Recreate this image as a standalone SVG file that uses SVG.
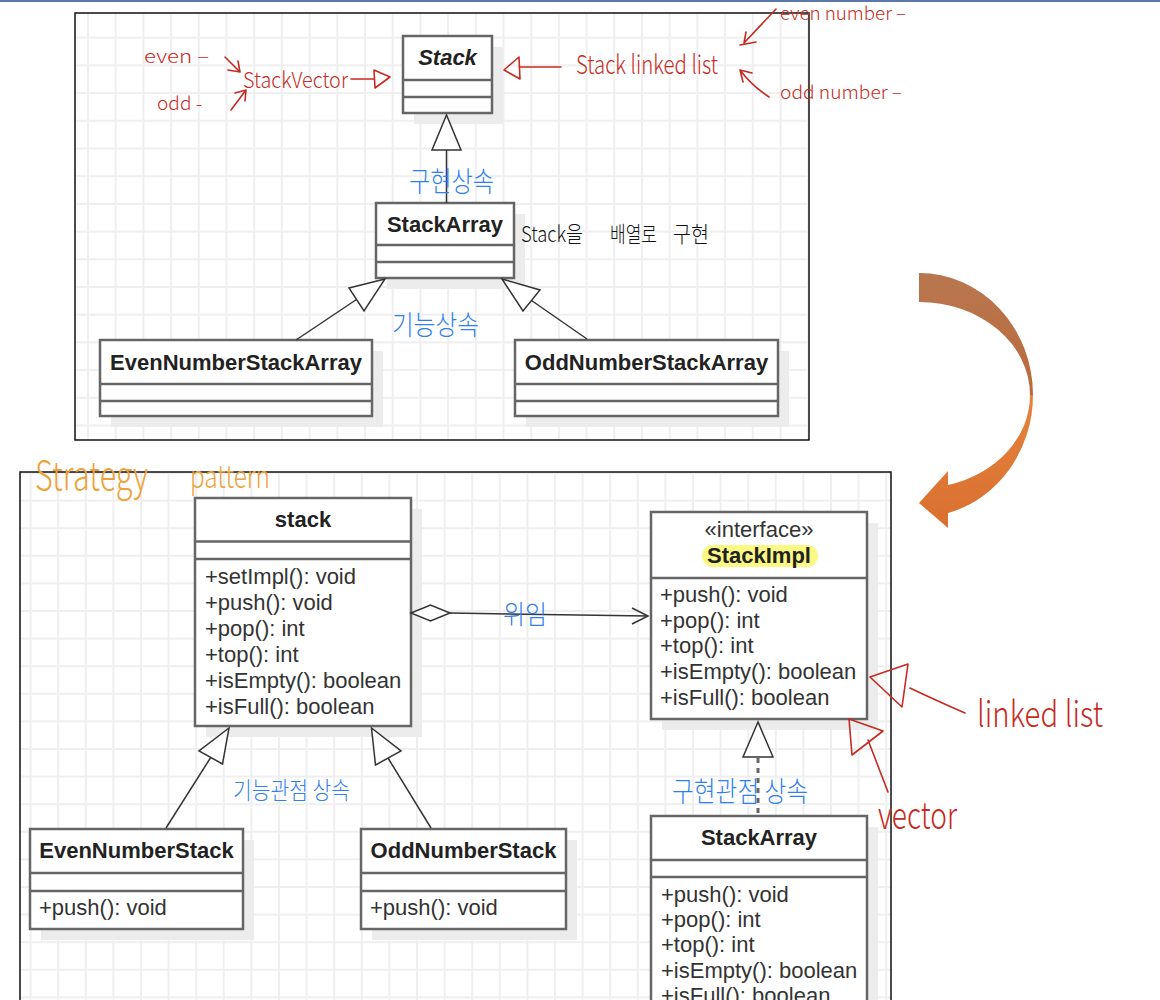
<svg xmlns="http://www.w3.org/2000/svg" width="1160" height="1000" viewBox="0 0 1160 1000">
<style>
.box{fill:#fff;stroke:#666;stroke-width:2.5}
.sh{fill:#ececec}
.dv{stroke:#666;stroke-width:2.5}
.cn{font-family:"Liberation Sans",Arial,sans-serif;font-size:22px;font-weight:bold;fill:#222;text-anchor:middle}
.mt{font-family:"Liberation Sans",Arial,sans-serif;font-size:22px;fill:#333}
.ln{stroke:#333;stroke-width:1.5;fill:none}
.tri{fill:#fff;stroke:#333;stroke-width:1.5}
.hw{font-family:"Noto Sans CJK KR","Liberation Sans",sans-serif;font-weight:300}
.red{fill:#c62a22}
.blue{fill:#2f80ee}
.org{fill:#eda13a}
.blk{fill:#111}
.rl{stroke:#c62a22;stroke-width:1.6;fill:none;stroke-linecap:round;stroke-linejoin:round}
</style>
<defs>
<pattern id="g1" x="3.9" y="9" width="27.7" height="27.7" patternUnits="userSpaceOnUse"><path d="M0,1H27.7M1,0V27.7" stroke="#efefef" stroke-width="2"/></pattern>
<pattern id="g2" x="2" y="2.8" width="27.6" height="27.6" patternUnits="userSpaceOnUse"><path d="M0,1H27.6M1,0V27.6" stroke="#efefef" stroke-width="2"/></pattern>
<linearGradient id="o1" x1="0" y1="0" x2="0" y2="1"><stop offset="0" stop-color="#b9774f"/><stop offset="1" stop-color="#b96a3c"/></linearGradient>
<linearGradient id="o2" x1="0" y1="0" x2="0" y2="1"><stop offset="0" stop-color="#e5843c"/><stop offset="1" stop-color="#d96f30"/></linearGradient>
</defs>
<rect x="0" y="0" width="1160" height="1000" fill="#fff"/>
<rect x="0" y="0" width="1160" height="2" fill="#5a78a8"/>

<!-- frames -->
<g id="frame-top">
<rect x="75" y="13" width="734" height="427" fill="url(#g1)" stroke="#111" stroke-width="1.5"/>
</g>
<g id="frame-bottom">
<rect x="20" y="472" width="871" height="560" fill="url(#g2)" stroke="#111" stroke-width="1.5"/>
</g>

<!-- top diagram nodes -->
<g id="top-Stack">
<rect class="sh" x="414" y="47" width="89" height="77"/>
<rect class="box" x="403" y="36" width="89" height="77"/>
<line class="dv" x1="403" y1="80" x2="492" y2="80"/><line class="dv" x1="403" y1="97" x2="492" y2="97"/>
<text class="cn" x="447.5" y="65" font-style="italic">Stack</text>
</g>
<g id="top-StackArray">
<rect class="sh" x="387" y="214" width="138" height="75"/>
<rect class="box" x="376" y="203" width="138" height="75"/>
<line class="dv" x1="376" y1="245" x2="514" y2="245"/><line class="dv" x1="376" y1="262" x2="514" y2="262"/>
<text class="cn" x="445" y="232">StackArray</text>
</g>
<g id="top-EvenNumberStackArray">
<rect class="sh" x="111" y="351" width="272" height="76"/>
<rect class="box" x="100" y="340" width="272" height="76"/>
<line class="dv" x1="100" y1="384" x2="372" y2="384"/><line class="dv" x1="100" y1="401" x2="372" y2="401"/>
<text class="cn" x="236" y="370">EvenNumberStackArray</text>
</g>
<g id="top-OddNumberStackArray">
<rect class="sh" x="526" y="351" width="263" height="76"/>
<rect class="box" x="515" y="340" width="263" height="76"/>
<line class="dv" x1="515" y1="384" x2="778" y2="384"/><line class="dv" x1="515" y1="401" x2="778" y2="401"/>
<text class="cn" x="646.5" y="370">OddNumberStackArray</text>
</g>

<!-- bottom diagram nodes -->
<g id="stack">
<rect class="sh" x="206" y="509" width="216" height="228"/>
<rect class="box" x="195" y="498" width="216" height="228"/>
<line class="dv" x1="195" y1="541.5" x2="411" y2="541.5"/><line class="dv" x1="195" y1="559" x2="411" y2="559"/>
<text class="cn" x="303" y="527">stack</text>
<text class="mt" x="205" y="584">+setImpl(): void</text>
<text class="mt" x="205" y="610">+push(): void</text>
<text class="mt" x="205" y="636">+pop(): int</text>
<text class="mt" x="205" y="662">+top(): int</text>
<text class="mt" x="205" y="688">+isEmpty(): boolean</text>
<text class="mt" x="205" y="714">+isFull(): boolean</text>
</g>
<g id="StackImpl">
<rect class="sh" x="662" y="523" width="216" height="207"/>
<rect class="box" x="651" y="512" width="216" height="207"/>
<line class="dv" x1="651" y1="578" x2="867" y2="578"/>
<text class="mt" x="759" y="537" text-anchor="middle">«interface»</text>
<rect x="702" y="545" width="116" height="22" rx="11" fill="#fbf884"/>
<text class="cn" x="759" y="563">StackImpl</text>
<text class="mt" x="660" y="602">+push(): void</text>
<text class="mt" x="660" y="628">+pop(): int</text>
<text class="mt" x="660" y="653">+top(): int</text>
<text class="mt" x="660" y="679">+isEmpty(): boolean</text>
<text class="mt" x="660" y="705">+isFull(): boolean</text>
</g>
<g id="EvenNumberStack">
<rect class="sh" x="41" y="840" width="213" height="100"/>
<rect class="box" x="30" y="829" width="213" height="100"/>
<line class="dv" x1="30" y1="873" x2="243" y2="873"/><line class="dv" x1="30" y1="891" x2="243" y2="891"/>
<text class="cn" x="136.5" y="858">EvenNumberStack</text>
<text class="mt" x="39" y="915">+push(): void</text>
</g>
<g id="OddNumberStack">
<rect class="sh" x="372" y="840" width="205" height="100"/>
<rect class="box" x="361" y="829" width="205" height="100"/>
<line class="dv" x1="361" y1="873" x2="566" y2="873"/><line class="dv" x1="361" y1="891" x2="566" y2="891"/>
<text class="cn" x="463.5" y="858">OddNumberStack</text>
<text class="mt" x="370" y="915">+push(): void</text>
</g>
<g id="StackArray">
<rect class="sh" x="662" y="827" width="216" height="230"/>
<rect class="box" x="651" y="816" width="216" height="230"/>
<line class="dv" x1="651" y1="860" x2="867" y2="860"/><line class="dv" x1="651" y1="877" x2="867" y2="877"/>
<text class="cn" x="759" y="845">StackArray</text>
<text class="mt" x="661" y="902">+push(): void</text>
<text class="mt" x="661" y="927">+pop(): int</text>
<text class="mt" x="661" y="952">+top(): int</text>
<text class="mt" x="661" y="978">+isEmpty(): boolean</text>
<text class="mt" x="661" y="1003">+isFull(): boolean</text>
</g>

<!-- connectors -->
<g id="connectors">
<line class="ln" x1="446.5" y1="150" x2="446.5" y2="203"/>
<polygon class="tri" points="446.5,115 432,150 461,150"/>
<line class="ln" x1="356.5" y1="299.5" x2="296" y2="340"/>
<polygon class="tri" points="385,279 349,288 364,311"/>
<line class="ln" x1="531.5" y1="300.5" x2="587" y2="339"/>
<polygon class="tri" points="502,279 540,290 523,311"/>
<line class="ln" x1="210.7" y1="757.5" x2="166" y2="828"/>
<polygon class="tri" points="229,728 199,751 222.5,764"/>
<line class="ln" x1="388" y1="758" x2="431" y2="828"/>
<polygon class="tri" points="371.5,728 401,751 375.5,765"/>
<line x1="758" y1="758" x2="758" y2="816" stroke="#666" stroke-width="3" stroke-dasharray="5,5"/>
<polygon class="tri" points="758,722 743,757 773,757"/>
<line class="ln" x1="450" y1="613" x2="648" y2="616"/>
<polygon class="tri" points="411,613 430.5,605 450,613 430.5,621"/>
<polyline class="ln" points="632,608 648,616 632,624"/>
</g>

<!-- orange transition arrow -->
<g id="transition-arrow">
<path d="M919,273 A114,122 0 0 1 1033,395 L1030,395 A111,93 0 0 0 919,302 Z" fill="url(#o1)"/>
<path d="M1033,395 A114,122 0 0 1 948,513 L948,528 L919,503 L948,471 L948,485 A111,93 0 0 0 1030,395 Z" fill="url(#o2)"/>
</g>

<!-- handwritten annotations -->
<g id="annotations">
<text class="hw red" x="144" y="63" font-size="18" textLength="65" lengthAdjust="spacingAndGlyphs">even –</text>
<text class="hw red" x="157" y="110" font-size="18" textLength="45" lengthAdjust="spacingAndGlyphs">odd -</text>
<path class="rl" d="M225,57 L240,72 M228,70 L240,72 L238,61"/>
<path class="rl" d="M231,110 L246,90 M235,93 L246,90 L245,101"/>
<text class="hw red" x="243" y="88" font-size="22" textLength="105" lengthAdjust="spacingAndGlyphs">StackVector</text>
<path class="rl" d="M351,79 L374,79 M374,70 L390,77 L375,88 Z"/>
<path class="rl" d="M504,70 L519,57 L520,79 Z M519,67 L561,67"/>
<text class="hw red" x="576" y="74" font-size="26" textLength="142" lengthAdjust="spacingAndGlyphs">Stack linked list</text>
<text class="hw red" x="780" y="20" font-size="18" textLength="126" lengthAdjust="spacingAndGlyphs">even number –</text>
<path class="rl" d="M776,9 L744,43 M740,45 L756,42 M744,43 L746,32"/>
<text class="hw red" x="780" y="99" font-size="18" textLength="122" lengthAdjust="spacingAndGlyphs">odd number –</text>
<path class="rl" d="M769,97 Q752,86 740,70 M740,70 L752,73 M740,70 L743,82"/>
<text class="hw blk" x="521" y="242" font-size="22" textLength="62" lengthAdjust="spacingAndGlyphs">Stack을</text>
<text class="hw blk" x="610" y="242" font-size="22" textLength="47" lengthAdjust="spacingAndGlyphs">배열로</text>
<text class="hw blk" x="673" y="242" font-size="22" textLength="36" lengthAdjust="spacingAndGlyphs">구현</text>
<text class="hw blue" x="409" y="192" font-size="28" textLength="85" lengthAdjust="spacingAndGlyphs">구현상속</text>
<text class="hw blue" x="392" y="335" font-size="27" textLength="87" lengthAdjust="spacingAndGlyphs">기능상속</text>
<text class="hw blue" x="503" y="624" font-size="26" textLength="44" lengthAdjust="spacingAndGlyphs">위임</text>
<text class="hw blue" x="233" y="799" font-size="24" textLength="117" lengthAdjust="spacingAndGlyphs">기능관점 상속</text>
<text class="hw blue" x="672" y="802" font-size="28" textLength="136" lengthAdjust="spacingAndGlyphs">구현관점 상속</text>
<text class="hw org" x="35" y="490" font-size="40" textLength="113" lengthAdjust="spacingAndGlyphs">Strategy</text>
<text class="hw org" x="190" y="488" font-size="32" textLength="80" lengthAdjust="spacingAndGlyphs">pattern</text>
<path class="rl" d="M870,677 L908,664 L902,707 Z M910,688 Q935,700 965,713"/>
<path class="rl" d="M849,719 L883,731 L852,755 Z M868,740 L888,792"/>
<text class="hw red" x="977" y="727" font-size="36" textLength="126" lengthAdjust="spacingAndGlyphs">linked list</text>
<text class="hw red" x="878" y="829" font-size="38" textLength="79" lengthAdjust="spacingAndGlyphs">vector</text>
</g>
</svg>
